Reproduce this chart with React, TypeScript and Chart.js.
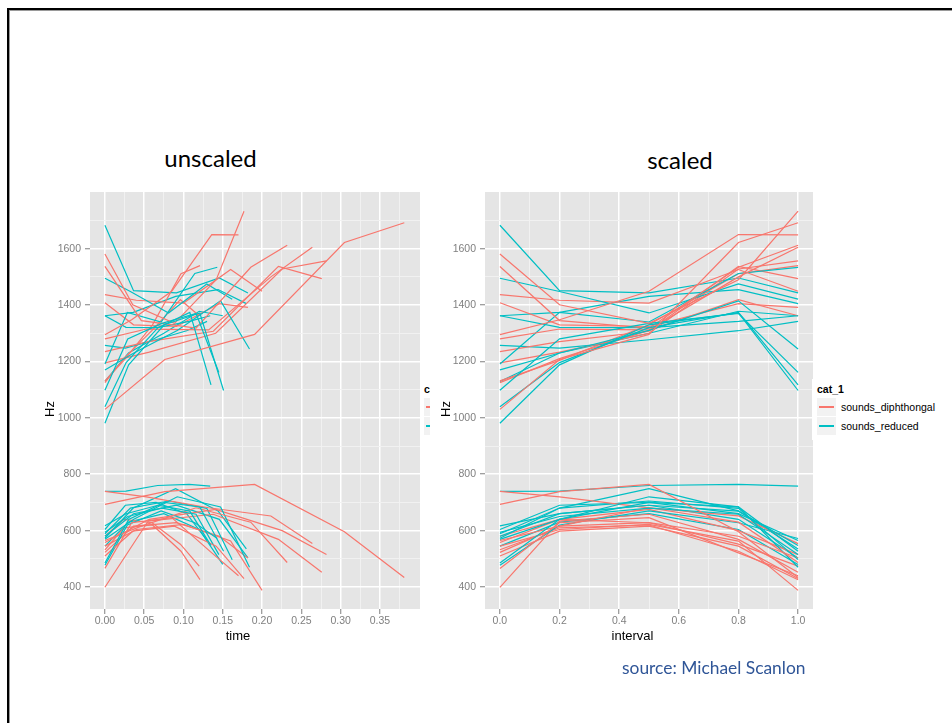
import React, { useEffect, useRef } from 'react';
import { Chart, registerables } from 'chart.js';

Chart.register(...registerables);

// ---------- data ----------
const CATEGORIES = ['sounds_diphthongal', 'sounds_reduced'];
const COLORS = ['#F8766D', '#00BFC4'];

// normalised measurement points within each token
const INTERVAL = [0, 0.2, 0.5, 0.8, 1.0];

// sounds_diphthongal tokens
const DIPH_DURATION = [0.381, 0.17, 0.177, 0.232, 0.264, 0.276, 0.282, 0.2, 0.182, 0.121, 0.12];
const DIPH_F2 = [
  [1030, 1207, 1296, 1622, 1692],
  [1295, 1348, 1449, 1650, 1649],
  [1581, 1401, 1335, 1490, 1733],
  [1537, 1345, 1318, 1534, 1612],
  [1280, 1315, 1312, 1500, 1605],
  [1235, 1270, 1307, 1537, 1494],
  [1195, 1233, 1300, 1528, 1557],
  [1437, 1417, 1407, 1526, 1449],
  [1408, 1330, 1324, 1405, 1392],
  [1131, 1204, 1330, 1511, 1540],
  [1125, 1210, 1310, 1419, 1362],
];
const DIPH_F1 = [
  [693, 738, 764, 596, 434],
  [466, 628, 646, 521, 440],
  [510, 598, 616, 545, 430],
  [565, 616, 681, 630, 487],
  [739, 720, 681, 652, 554],
  [399, 634, 658, 569, 452],
  [558, 640, 675, 600, 515],
  [545, 604, 622, 563, 388],
  [523, 616, 628, 580, 503],
  [532, 610, 620, 527, 426],
  [580, 640, 628, 552, 474],
];

// sounds_reduced tokens
const RED_DURATION = [0.151, 0.135, 0.145, 0.184, 0.143, 0.162, 0.134, 0.13, 0.182, 0.18, 0.15];
const RED_F2 = [
  [981, 1188, 1330, 1372, 1097],
  [1039, 1196, 1320, 1374, 1117],
  [1098, 1280, 1335, 1370, 1161],
  [1170, 1230, 1310, 1415, 1244],
  [1191, 1374, 1340, 1512, 1534],
  [1495, 1448, 1372, 1475, 1421],
  [1362, 1321, 1320, 1342, 1362],
  [1257, 1247, 1277, 1309, 1342],
  [1683, 1451, 1443, 1496, 1443],
  [1362, 1374, 1431, 1455, 1405],
  [1129, 1230, 1300, 1378, 1362],
];
const RED_F1 = [
  [485, 640, 700, 684, 527],
  [617, 660, 690, 669, 547],
  [594, 650, 680, 658, 515],
  [569, 640, 720, 684, 470],
  [477, 620, 670, 628, 572],
  [589, 680, 705, 679, 497],
  [739, 740, 760, 764, 758],
  [604, 690, 700, 660, 565],
  [580, 660, 690, 640, 503],
  [573, 680, 749, 670, 535],
  [545, 630, 660, 604, 480],
];

// tick labels
const HZ_TICKS = ['400', '600', '800', '1000', '1200', '1400', '1600'];
const HZ_MINOR = [500, 700, 900, 1100, 1300, 1500, 1700];
const TIME_TICKS = ['0.00', '0.05', '0.10', '0.15', '0.20', '0.25', '0.30', '0.35'];
const TIME_MINOR = [0.025, 0.075, 0.125, 0.175, 0.225, 0.275, 0.325, 0.375];
const INTERVAL_TICKS = ['0.0', '0.2', '0.4', '0.6', '0.8', '1.0'];
const INTERVAL_MINOR = [0.1, 0.3, 0.5, 0.7, 0.9];

const HZ_RANGE = [322, 1801];
const TIME_RANGE = [-0.019, 0.401];
const INTERVAL_RANGE = [-0.05, 1.05];

// ---------- chart helpers ----------
const TICK_FONT = { family: '"Liberation Sans", Arial, sans-serif', size: 10.5 };
const TICK_GREY = '#7F7F7F';

const panelBg = {
  id: 'panelBg',
  beforeDraw(chart: any) {
    const { ctx, chartArea: a } = chart;
    ctx.save();
    ctx.fillStyle = '#E5E5E5';
    ctx.fillRect(a.left, a.top, a.right - a.left, a.bottom - a.top);
    ctx.restore();
  },
};

function isIn(list: number[], v: number) {
  return list.some((m) => Math.abs(m - v) < 1e-9);
}

function axis(labels: string[], minor: number[], range: number[], fit: (s: any) => void, pad: number, tl: number) {
  const major = labels.map(Number);
  return {
    type: 'linear',
    min: range[0],
    max: range[1],
    border: { display: false },
    afterBuildTicks: (s: any) => {
      s.ticks = [...major, ...minor].sort((a, b) => a - b).map((v) => ({ value: v }));
    },
    afterFit: fit,
    grid: {
      color: (c: any) => (c.tick && isIn(major, c.tick.value) ? '#FFFFFF' : '#F2F2F2'),
      lineWidth: (c: any) => (c.tick && isIn(major, c.tick.value) ? 1.5 : 0.9),
      tickColor: (c: any) => (c.tick && isIn(major, c.tick.value) ? TICK_GREY : 'rgba(0,0,0,0)'),
      tickLength: tl,
      tickWidth: 1,
      drawTicks: true,
    },
    ticks: {
      autoSkip: false,
      maxRotation: 0,
      minRotation: 0,
      padding: pad,
      color: TICK_GREY,
      font: TICK_FONT,
      callback: (v: number) => {
        const i = major.findIndex((m) => Math.abs(m - v) < 1e-9);
        return i >= 0 ? labels[i] : '';
      },
    },
  };
}

function buildDatasets(mode: 'time' | 'interval') {
  const sets: any[] = [];
  const groups = [
    { dur: DIPH_DURATION, f1: DIPH_F1, f2: DIPH_F2, cat: 0 },
    { dur: RED_DURATION, f1: RED_F1, f2: RED_F2, cat: 1 },
  ];
  const n = Math.max(DIPH_DURATION.length, RED_DURATION.length);
  for (let i = 0; i < n; i++) {
    for (const g of groups) {
      if (i >= g.dur.length) continue;
      for (const [name, vals] of [['F1', g.f1[i]], ['F2', g.f2[i]]] as [string, number[]][]) {
        sets.push({
          label: `${CATEGORIES[g.cat]} ${name} ${i + 1}`,
          data: INTERVAL.map((f, k) => ({ x: mode === 'time' ? f * g.dur[i] : f, y: vals[k] })),
          borderColor: COLORS[g.cat],
          backgroundColor: COLORS[g.cat],
          borderWidth: 1.2,
          pointRadius: 0,
          fill: false,
          tension: 0,
        });
      }
    }
  }
  return sets;
}

function makeConfig(mode: 'time' | 'interval'): any {
  const isTime = mode === 'time';
  return {
    type: 'line',
    data: { datasets: buildDatasets(mode) },
    options: {
      animation: false,
      responsive: false,
      maintainAspectRatio: false,
      events: [],
      layout: { padding: { left: 10, right: isTime ? 20 : 17, top: 12, bottom: 21 } },
      plugins: { legend: { display: false }, tooltip: { enabled: false }, title: { display: false } },
      scales: {
        x: axis(
          isTime ? TIME_TICKS : INTERVAL_TICKS,
          isTime ? TIME_MINOR : INTERVAL_MINOR,
          isTime ? TIME_RANGE : INTERVAL_RANGE,
          (s: any) => { s.height = 30; },
          1,
          5
        ),
        y: axis(
          HZ_TICKS,
          HZ_MINOR,
          HZ_RANGE,
          (s: any) => { s.width = isTime ? 60 : 45; },
          4,
          5
        ),
      },
    },
    plugins: [panelBg],
  };
}

// ---------- layout pieces ----------
const SANS = '"Liberation Sans", Arial, sans-serif';

function Legend({ x, y }: { x: number; y: number }) {
  return (
    <div style={{ position: 'absolute', left: x, top: y, width: 140, height: 61, background: '#FFFFFF', fontFamily: SANS, color: '#000' }}>
      <div style={{ position: 'absolute', left: 5, top: 4, fontSize: 10.5, lineHeight: '12px', fontWeight: 'bold', whiteSpace: 'nowrap' }}>cat_1</div>
      {CATEGORIES.map((c, i) => (
        <React.Fragment key={c}>
          <div style={{ position: 'absolute', left: 5, top: 19 + i * 19, width: 19, height: 18, background: '#F2F2F2' }}>
            <div style={{ position: 'absolute', left: 2, right: 2, top: 8, height: 1.5, background: COLORS[i] }} />
          </div>
          <div style={{ position: 'absolute', left: 29, top: 21.5 + i * 19, fontSize: 10.5, lineHeight: '12px', whiteSpace: 'nowrap' }}>{c}</div>
        </React.Fragment>
      ))}
    </div>
  );
}

function Centered({ x, y, children, style }: any) {
  return (
    <div style={{ position: 'absolute', left: x, top: y, transform: 'translate(-50%, -50%)', whiteSpace: 'nowrap', lineHeight: 1, ...style }}>
      {children}
    </div>
  );
}

export default function App() {
  const leftRef = useRef<HTMLCanvasElement>(null);
  const rightRef = useRef<HTMLCanvasElement>(null);

  useEffect(() => {
    const c1 = new Chart(leftRef.current as HTMLCanvasElement, makeConfig('time'));
    const c2 = new Chart(rightRef.current as HTMLCanvasElement, makeConfig('interval'));
    return () => {
      c1.destroy();
      c2.destroy();
    };
  }, []);

  const axisTitle = { fontFamily: SANS, fontSize: 13, color: '#000' };
  const slideTitle = { fontFamily: 'Lato, "Open Sans", sans-serif', fontSize: 24, color: '#000' };

  return (
    <div style={{ position: 'absolute', left: 0, top: 0, width: 952, height: 723, background: '#FFFFFF', overflow: 'hidden' }}>
      <div
        style={{
          position: 'absolute', left: 7, top: 8, width: 950, height: 720,
          borderTop: '2px solid #000', borderLeft: '2px solid #000',
          boxShadow: 'inset 1px 1px 0 #9A9A9A',
        }}
      />
      <Centered x={210.5} y={158} style={slideTitle}>unscaled</Centered>
      <Centered x={680} y={160} style={slideTitle}>scaled</Centered>

      <canvas ref={leftRef} width={420} height={480} style={{ position: 'absolute', left: 20, top: 180 }} />
      <canvas ref={rightRef} width={400} height={480} style={{ position: 'absolute', left: 430, top: 180 }} />

      {/* clipped legend of the left plot */}
      <div style={{ position: 'absolute', left: 420, top: 370, width: 9.5, height: 80, overflow: 'hidden' }}>
        <Legend x={-1} y={9} />
      </div>
      <Legend x={812} y={379} />

      <Centered x={238} y={635} style={axisTitle}>time</Centered>
      <Centered x={632.5} y={635} style={axisTitle}>interval</Centered>
      <Centered x={48.5} y={409} style={{ ...axisTitle, transform: 'translate(-50%, -50%) rotate(-90deg)' }}>Hz</Centered>
      <Centered x={445} y={409} style={{ ...axisTitle, transform: 'translate(-50%, -50%) rotate(-90deg)' }}>Hz</Centered>

      <div style={{ position: 'absolute', left: 622, top: 658, fontFamily: 'Lato, "Open Sans", sans-serif', fontSize: 17.4, lineHeight: '20px', color: '#2F5597', whiteSpace: 'nowrap' }}>
        source: Michael Scanlon
      </div>
    </div>
  );
}
